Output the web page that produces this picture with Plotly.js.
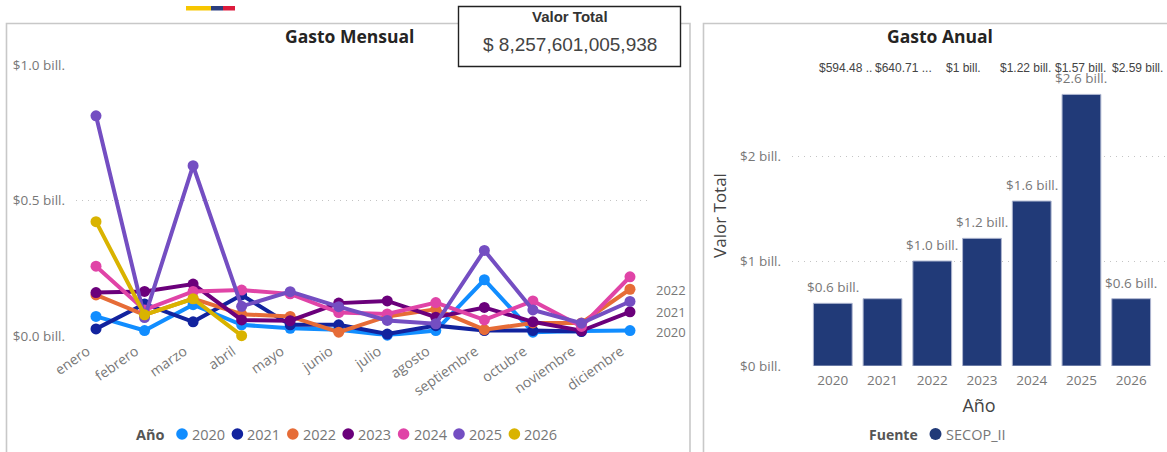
<!DOCTYPE html>
<html><head><meta charset="utf-8">
<script src="https://cdn.plot.ly/plotly-3.0.1.min.js"></script>
<style>html,body{margin:0;padding:0;background:#fff;overflow:hidden}#c{width:1167px;height:452px}</style>
</head><body><div id="c"></div>
<script>
const months = ["enero","febrero","marzo","abril","mayo","junio","julio","agosto","septiembre","octubre","noviembre","diciembre"];
const years = ["2020","2021","2022","2023","2024","2025","2026"];
const yearColors = ["#118DFF","#12239E","#E66C37","#6B007B","#E044A7","#744EC2","#D9B300"];
const v2020 = [0.074,0.022,0.117,0.043,0.030,0.025,0.005,0.022,0.209,0.016,0.020,0.022];
const v2021 = [0.028,0.120,0.054,0.153,0.043,0.043,0.009,0.040,0.022,0.022,0.018,null];
const v2022 = [0.153,0.080,0.140,0.082,0.074,0.016,0.074,0.100,0.025,0.050,0.050,0.174];
const v2023 = [0.162,0.166,0.193,0.061,0.058,0.123,0.131,0.071,0.107,0.054,0.021,0.091];
const v2024 = [0.259,0.098,0.166,0.171,0.157,0.088,0.083,0.125,0.061,0.131,0.037,0.220];
const v2025 = [0.813,0.070,0.629,0.111,0.165,0.110,0.059,0.047,0.317,0.098,0.049,0.129];
const v2026 = [0.423,0.080,0.139,0.003];
const monthly = [v2020,v2021,v2022,v2023,v2024,v2025,v2026];
const annualTotals = [0.597,0.641,1.000,1.216,1.571,2.587,0.641];
const annualLabels = ["$0.6 bill.",null,"$1.0 bill.","$1.2 bill.","$1.6 bill.","$2.6 bill.","$0.6 bill."];
const topRowLabels = ["$594.48 ..","$640.71 ...","$1 bill.","$1.22 bill.","$1.57 bill.","$2.59 bill."];
const topRowX = [846,903,963,1025,1080,1137];
const sideLabels = ["2022","2021","2020"];
const sideLabelY = [290,312,332];
const monthlyTicks = [0,0.5,1];
const monthlyTickText = ["$0.0 bill.","$0.5 bill.","$1.0 bill."];
const annualTicks = [0,1,2];
const annualTickText = ["$0 bill.","$1 bill.","$2 bill."];

const W = 1167, H = 452;
const px = x => x / W, py = y => 1 - y / H;
const SANS = '"Open Sans", "Noto Sans", sans-serif';
const ARIAL = '"Liberation Sans", Arial, sans-serif';
const GREY = "#777777", DARK = "#252423";

const traces = monthly.map((vals, i) => ({
  type: "scatter", mode: "lines+markers", name: years[i],
  x: months.slice(0, vals.length), y: vals,
  xaxis: "x", yaxis: "y", cliponaxis: false, connectgaps: false,
  line: {color: yearColors[i], width: 4},
  marker: {color: yearColors[i], size: 11},
  showlegend: false
}));
traces.push({
  type: "bar", x: years, y: annualTotals, xaxis: "x2", yaxis: "y2", width: 0.78,
  marker: {color: "#213A78", line: {color: "#AEB6D0", width: 1}},
  cliponaxis: false, showlegend: false
});

const txt = (x, y, text, size, color, family, extra) => Object.assign({
  xref: "paper", yref: "paper", x: px(x), y: py(y), text, showarrow: false,
  xanchor: "center", yanchor: "middle",
  font: {family, size, color}
}, extra || {});

const annotations = [
  txt(349, 36, "<b>Gasto Mensual</b>", 17.5, DARK, SANS),
  txt(940, 36, "<b>Gasto Anual</b>", 17.5, DARK, SANS),
  txt(570, 16, "<b>Valor Total</b>", 15, "#333333", ARIAL),
  txt(570, 44, "$ 8,257,601,005,938", 19, "#444444", ARIAL),
  txt(153, 434, "<b>Año</b>", 14.5, "#555555", SANS, {xanchor: "right", x: px(167)}),
  txt(897, 434, "<b>Fuente</b>", 14, "#555555", SANS, {xanchor: "right", x: px(920)}),
  txt(944, 434, "SECOP_II", 14.5, GREY, SANS, {xanchor: "left"})
];
topRowLabels.forEach((t, i) => annotations.push(txt(topRowX[i], 68, t, 12, "#444444", ARIAL)));
sideLabels.forEach((t, i) => annotations.push(txt(671, sideLabelY[i], t, 13, GREY, SANS)));
annualLabels.forEach((t, i) => {
  if (t) annotations.push({
    xref: "x2", yref: "y2", x: i, y: annualTotals[i], text: t, showarrow: false,
    xanchor: "center", yanchor: "bottom", yshift: 5,
    font: {family: SANS, size: 13.5, color: GREY}
  });
});

const rect = (x0, y0, x1, y1, fill, lineColor, lw) => ({
  type: "rect", xref: "paper", yref: "paper",
  x0: px(x0), x1: px(x1), y0: py(y0), y1: py(y1),
  fillcolor: fill, line: {color: lineColor, width: lw}
});
const dot = (cx, cy, r, fill) => ({
  type: "circle", xref: "paper", yref: "paper",
  x0: px(cx - r), x1: px(cx + r), y0: py(cy - r), y1: py(cy + r),
  fillcolor: fill, line: {width: 0}
});
const shapes = [
  rect(6.5, 23.5, 690, 480, "rgba(0,0,0,0)", "#C8C8C8", 1.6),
  rect(703.5, 23.5, 1190, 480, "rgba(0,0,0,0)", "#C8C8C8", 1.6),
  rect(458.5, 6.5, 680.5, 66.5, "#FFFFFF", "#222222", 1.4),
  rect(186, 6, 211, 10.5, "#F7C600", "#F7C600", 0),
  rect(211, 6, 223, 10.5, "#2C3E7E", "#2C3E7E", 0),
  rect(223, 6, 235, 10.5, "#DC1B3C", "#DC1B3C", 0),
  dot(935.5, 434, 6, "#213A78")
];
years.forEach((y, i) => {
  const cx = 182 + i * 55.4;
  shapes.push(dot(cx, 434, 5.8, yearColors[i]));
  annotations.push(txt(cx + 8, 434, y, 14.5, GREY, SANS, {xanchor: "left"}));
});

const grid = {showgrid: true, gridcolor: "#C4C4C4", gridwidth: 1, griddash: "1px,5px", zeroline: false, showline: false, ticks: ""};
const layout = {
  width: W, height: H, margin: {l: 0, r: 0, t: 0, b: 0},
  paper_bgcolor: "#FFFFFF", plot_bgcolor: "rgba(0,0,0,0)", showlegend: false,
  xaxis: {
    domain: [px(76), px(648)], anchor: "y", type: "category", categoryorder: "array", categoryarray: months,
    range: [-0.412, 11.371], showgrid: false, zeroline: false, showline: false, ticks: "",
    tickmode: "array", tickvals: months, ticktext: months.map(m => m + "\u00a0\u00a0\u00a0"),
    tickangle: -35, ticklabelstandoff: -3, tickfont: {family: SANS, size: 14, color: GREY}, automargin: false
  },
  yaxis: Object.assign({}, grid, {
    domain: [py(336.5), py(65)], anchor: "x", range: [0, 1],
    tickvals: monthlyTicks, ticktext: monthlyTickText, ticklabelstandoff: 10,
    tickfont: {family: SANS, size: 13.5, color: GREY}, automargin: false
  }),
  xaxis2: {
    domain: [px(792), px(1166)], anchor: "y2", type: "category", categoryorder: "array", categoryarray: years,
    range: [-0.82, 6.7], showgrid: false, zeroline: false, showline: false, ticks: "",
    ticklabelstandoff: 4, tickfont: {family: SANS, size: 13.5, color: GREY}, automargin: false,
    title: {text: "Año", standoff: 11, font: {family: SANS, size: 18, color: "#444444"}}
  },
  yaxis2: Object.assign({}, grid, {
    domain: [py(366), py(65)], anchor: "x2", range: [0, 2.867],
    tickvals: annualTicks, ticktext: annualTickText, ticklabelstandoff: 10,
    tickfont: {family: SANS, size: 13.5, color: GREY}, automargin: false,
    title: {text: "Valor Total", standoff: 9, font: {family: SANS, size: 17, color: "#444444"}}
  }),
  annotations, shapes
};
Plotly.newPlot("c", traces, layout, {displayModeBar: false, staticPlot: true});
</script></body></html>
